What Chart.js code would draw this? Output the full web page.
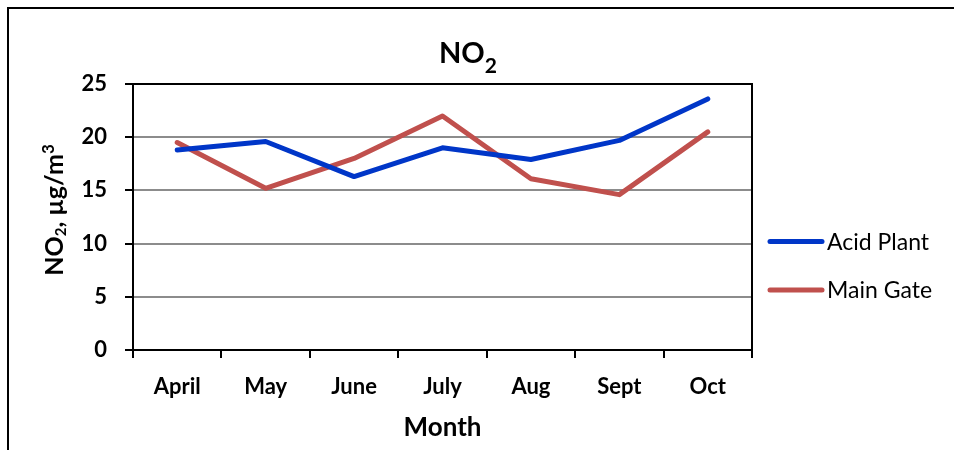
<!DOCTYPE html>
<html>
<head>
<meta charset="utf-8">
<script src="https://cdn.jsdelivr.net/npm/chart.js@4.4.1/dist/chart.umd.min.js"></script>
<style>
  body { margin: 0; background: #fff; }
  canvas { display: block; }
</style>
</head>
<body>
<canvas id="no2" width="954" height="450"></canvas>
<script>
// data
var months = ['April', 'May', 'June', 'July', 'Aug', 'Sept', 'Oct'];
var acidPlant = [18.8, 19.6, 16.3, 19.0, 17.9, 19.7, 23.6];
var mainGate = [19.5, 15.2, 18.0, 22.0, 16.1, 14.6, 20.5];
var yTicks = [0, 5, 10, 15, 20, 25];

Chart.defaults.font.family = 'Lato';
Chart.defaults.color = '#000';

// draws mixed text (sub/superscripts) starting at x, baseline y
function drawRich(ctx, parts, x, y) {
  parts.forEach(function (p) {
    ctx.font = 'bold ' + p.size + 'px Lato';
    ctx.fillText(p.t, x, y + (p.dy || 0));
    x += ctx.measureText(p.t).width;
  });
}
function richWidth(ctx, parts) {
  var w = 0;
  parts.forEach(function (p) {
    ctx.font = 'bold ' + p.size + 'px Lato';
    w += ctx.measureText(p.t).width;
  });
  return w;
}

var decor = {
  id: 'decor',
  beforeDraw: function (chart) {
    var ctx = chart.ctx;
    ctx.save();
    ctx.fillStyle = '#fff';
    ctx.fillRect(0, 0, chart.width, chart.height);
    // outer frame
    ctx.strokeStyle = '#000';
    ctx.lineWidth = 2;
    ctx.beginPath();
    ctx.moveTo(8, chart.height);
    ctx.lineTo(8, 8);
    ctx.lineTo(chart.width, 8);
    ctx.stroke();
    ctx.restore();
  },
  beforeDatasetsDraw: function (chart) {
    var a = chart.chartArea, ctx = chart.ctx;
    ctx.save();
    ctx.strokeStyle = '#000';
    ctx.lineWidth = 2;
    ctx.strokeRect(a.left, a.top, a.right - a.left, a.bottom - a.top);
    ctx.restore();
  },
  afterDraw: function (chart) {
    var ctx = chart.ctx;
    ctx.save();
    ctx.fillStyle = '#000';
    ctx.textBaseline = 'alphabetic';
    ctx.textAlign = 'left';

    // chart title NO2
    var title = [{t: 'NO', size: 29}, {t: '2', size: 21, dy: 10}];
    drawRich(ctx, title, 468 - richWidth(ctx, title) / 2, 63);

    // y axis title
    var ytitle = [{t: 'NO', size: 25}, {t: '2', size: 15, dy: 3}, {t: ', \u00b5g/m', size: 25}, {t: '3', size: 17, dy: -9}];
    ctx.save();
    ctx.translate(63, 210);
    ctx.rotate(-Math.PI / 2);
    drawRich(ctx, ytitle, -richWidth(ctx, ytitle) / 2, 0);
    ctx.restore();

    // legend
    chart.data.datasets.forEach(function (ds, i) {
      var y = 241.5 + i * 48.5;
      ctx.strokeStyle = ds.borderColor;
      ctx.lineWidth = 5;
      ctx.lineCap = 'round';
      ctx.beginPath();
      ctx.moveTo(770, y);
      ctx.lineTo(822, y);
      ctx.stroke();
      ctx.font = '23px Lato';
      ctx.fillText(ds.label, 827, y + 8.3);
    });
    ctx.restore();
  }
};

new Chart(document.getElementById('no2'), {
  type: 'line',
  data: {
    labels: months,
    datasets: [{
      label: 'Acid Plant',
      data: acidPlant,
      borderColor: '#0036c8',
      borderWidth: 5,
      pointRadius: 0,
      tension: 0,
      borderCapStyle: 'round',
      borderJoinStyle: 'round'
    }, {
      label: 'Main Gate',
      data: mainGate,
      borderColor: '#c0504d',
      borderWidth: 5,
      pointRadius: 0,
      tension: 0,
      borderCapStyle: 'round',
      borderJoinStyle: 'round'
    }]
  },
  options: {
    responsive: false,
    devicePixelRatio: 1,
    animation: false,
    layout: { padding: { top: 84, right: 202, left: 0, bottom: 0 } },
    plugins: {
      legend: { display: false },
      title: { display: false },
      tooltip: { enabled: false }
    },
    scales: {
      x: {
        offset: true,
        grid: {
          offset: true,
          drawOnChartArea: false,
          tickLength: 8,
          tickColor: '#000',
          lineWidth: 2
        },
        border: { color: '#000', width: 2 },
        ticks: { font: { size: 22, weight: 'bold' }, color: '#000', padding: 16, maxRotation: 0 },
        title: { display: true, text: 'Month', font: { size: 26, weight: 'bold' }, color: '#000', padding: { top: 0, bottom: 7 } },
        afterFit: function (s) { s.height = 100; }
      },
      y: {
        min: 0,
        max: 25,
        afterBuildTicks: function (s) { s.ticks = yTicks.map(function (v) { return { value: v }; }); },
        grid: {
          color: function (c) { return (c.tick && (c.tick.value === 0 || c.tick.value === 25)) ? 'rgba(0,0,0,0)' : '#8c8c8c'; },
          tickColor: '#000',
          tickLength: 8,
          lineWidth: 2
        },
        border: { color: '#000', width: 2 },
        ticks: { font: { size: 22, weight: 'bold' }, color: '#000', padding: 18 },
        afterFit: function (s) { s.width = 133; }
      }
    }
  },
  plugins: [decor]
});
</script>
</body>
</html>
